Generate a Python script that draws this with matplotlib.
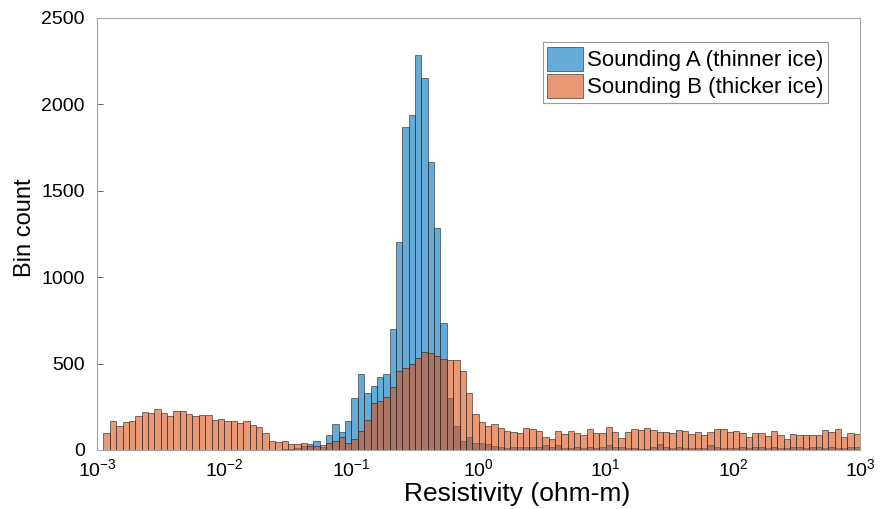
import numpy as np
import matplotlib
matplotlib.use("Agg")
import matplotlib.pyplot as plt

plt.rcParams["font.family"] = ["Liberation Sans", "DejaVu Sans"]
plt.rcParams["mathtext.fontset"] = "custom"
plt.rcParams["mathtext.rm"] = "Liberation Sans"
plt.rcParams["mathtext.it"] = "Liberation Sans"

# bin edges in log10(ohm-m): 20 bins per decade, 1e-3 .. 1e3
log_edges = np.linspace(-3, 3, 121)

# Sounding A (thinner ice) counts per bin
count_a = np.zeros(120)
count_a[29:62] = [3, 6, 10, 25, 35, 54, 18, 85, 149, 106,
                  166, 303, 438, 328, 370, 422, 438, 700, 1203, 1867,
                  1937, 2286, 2151, 1665, 1283, 733, 299, 141, 50, 73,
                  39, 39, 34]
count_a[62:120] = [23, 19, 12, 15, 15, 15, 19, 15, 29, 15,
                   27, 12, 10, 15, 13, 19, 12, 15, 29, 15,
                   15, 10, 10, 6, 6, 19, 33, 15, 13, 19,
                   13, 13, 10, 10, 29, 19, 13, 13, 13, 19,
                   10, 15, 19, 13, 15, 10, 13, 15, 15, 13,
                   15, 19, 13, 15, 10, 13, 19, 15]

# Sounding B (thicker ice) counts per bin
count_b = np.array([
    0, 100, 167, 141, 164, 165, 199, 222, 211, 237,
    216, 195, 227, 227, 209, 195, 200, 200, 174, 177,
    170, 170, 157, 167, 143, 135, 97, 53, 45, 50,
    35, 37, 41, 21, 23, 29, 39, 52, 77, 41,
    62, 108, 172, 270, 283, 304, 362, 459, 473, 497,
    532, 564, 559, 541, 525, 521, 521, 456, 328, 206,
    160, 141, 148, 125, 108, 104, 96, 128, 123, 112,
    75, 64, 107, 93, 107, 96, 85, 121, 96, 96,
    131, 103, 68, 102, 120, 114, 128, 113, 101, 106,
    96, 117, 110, 95, 104, 86, 106, 120, 120, 106,
    110, 100, 75, 98, 96, 82, 112, 87, 64, 95,
    88, 89, 89, 89, 113, 106, 120, 75, 96, 92])

edges = 10.0 ** log_edges
widths = np.diff(edges)

blue = (0.0, 0.447, 0.741)
orange = (0.85, 0.325, 0.098)
edge = (0.15, 0.15, 0.15)

fig = plt.figure(figsize=(8.83, 5.09), dpi=100)
ax = fig.add_axes([0.11, 0.116, 0.864, 0.849])

ax.bar(edges[:-1], count_a, width=widths, align="edge", color=blue, alpha=0.6,
       edgecolor=edge, linewidth=0.7, label="Sounding A (thinner ice)")
ax.bar(edges[:-1], count_b, width=widths, align="edge", color=orange, alpha=0.6,
       edgecolor=edge, linewidth=0.7, label="Sounding B (thicker ice)")

ax.set_xscale("log")
ax.set_xlim(1e-3, 1e3)
ax.set_ylim(0, 2500)
ax.set_xticks(10.0 ** np.arange(-3, 4))
ax.set_yticks(np.arange(0, 2501, 500))
ax.minorticks_off()
ax.tick_params(direction="in", length=4, width=0.6, color="0.3", labelsize=14)
ax.tick_params(axis="y", pad=9)
ax.tick_params(axis="x", pad=6)
for s in ax.spines.values():
    s.set_color("0.65")
    s.set_linewidth(0.8)

ax.set_xlabel("Resistivity (ohm-m)", fontsize=19)
ax.xaxis.set_label_coords(0.55, -0.075)
ax.set_ylabel("Bin count", fontsize=17)
ax.yaxis.set_label_coords(-0.08, 0.515)

leg = ax.legend(loc="upper right", bbox_to_anchor=(0.958, 0.943), fontsize=16,
                fancybox=False, framealpha=1, edgecolor="0.6",
                handlelength=1.6, handleheight=1.3, handletextpad=0.2,
                borderpad=0.2, labelspacing=0.1, borderaxespad=0.0)
leg.get_frame().set_linewidth(0.8)

fig.savefig("out.png", dpi=100)
